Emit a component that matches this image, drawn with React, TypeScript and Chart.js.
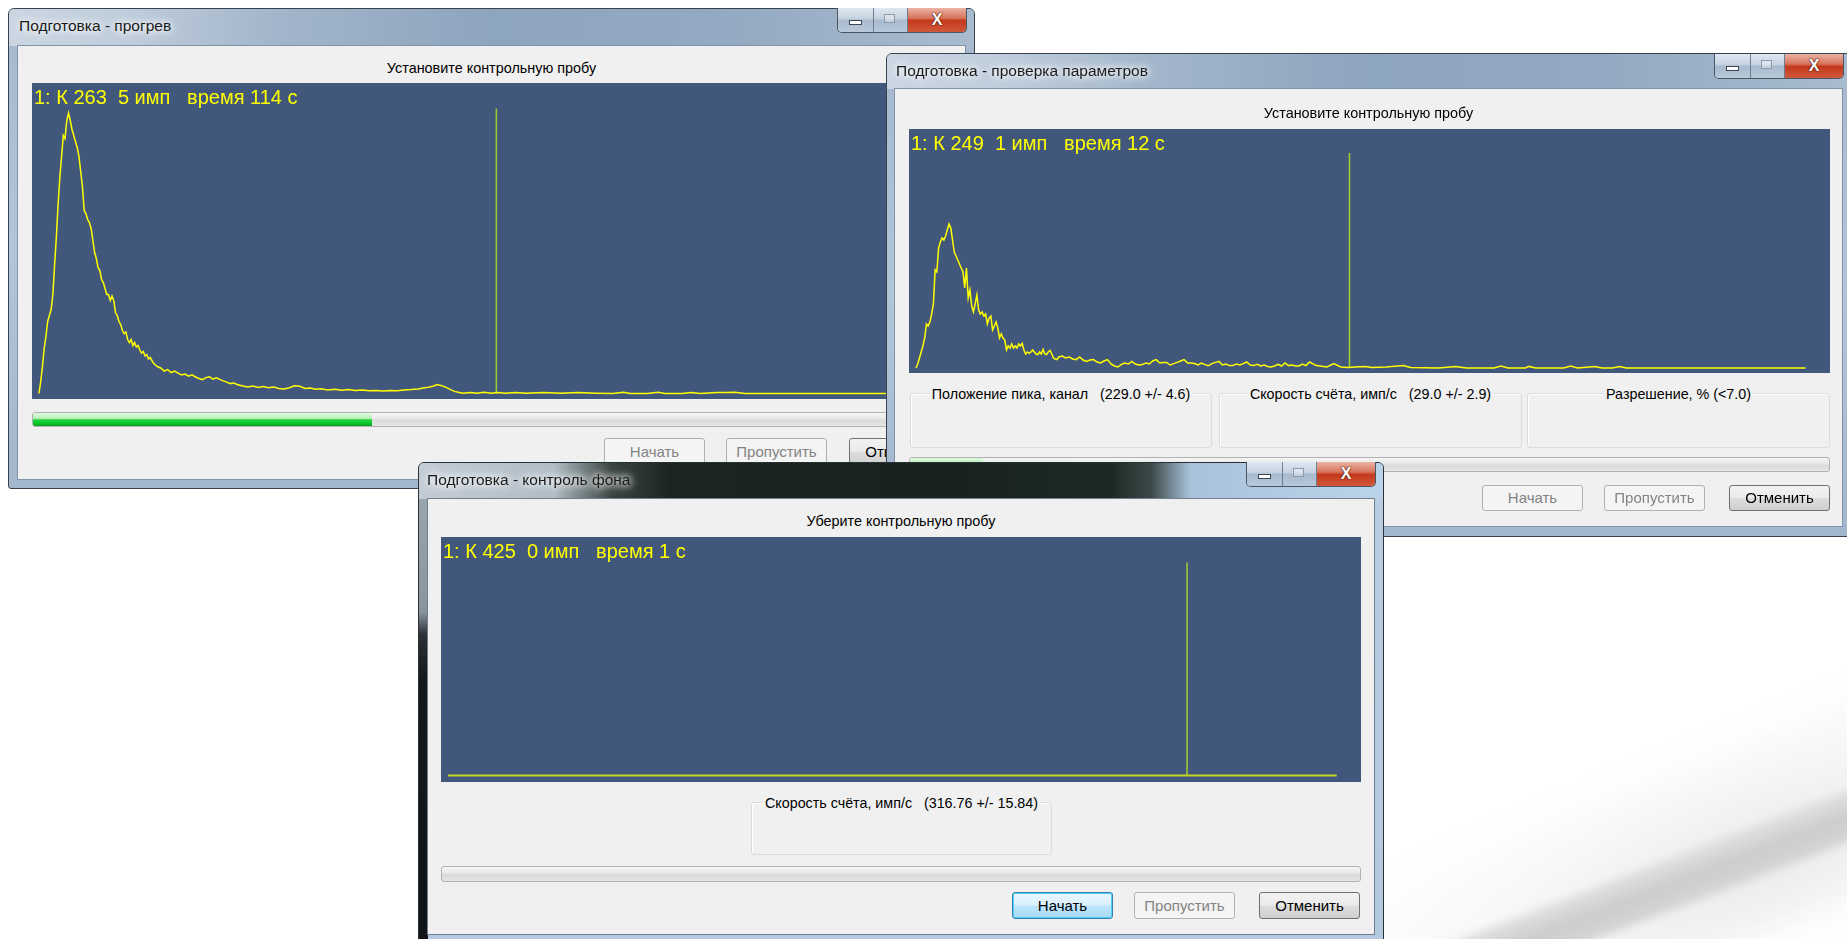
import React, { useEffect, useRef } from "react";
import { Chart, registerables } from "chart.js";

Chart.register(...registerables);

const UI_FONT = '"Liberation Sans", Arial, sans-serif';
const PLOT_BG = "#41587c";
const TRACE_YELLOW = "#ffff00";
const CURSOR_GREEN = "#9fcd2c";
const X_MIN = -4;
const X_MAX = 525;

// ---- Window 1: "Подготовка - прогрев" spectrum ----
const warmupChannels = [
  0, 1, 2, 3, 4, 5, 6, 7, 8, 9,
  10, 11, 12, 13, 14, 15, 16, 17, 18, 19,
  20, 21, 22, 23, 24, 25, 26, 27, 28, 29,
  30, 31, 32, 33, 34, 35, 36, 37, 38, 39,
  40, 41, 42, 43, 44, 45, 46, 47, 48, 49,
  50, 51, 52, 53, 54, 55, 56, 57, 58, 59,
  60, 61, 62, 63, 64, 65, 66, 67, 68,
  70, 72, 74, 76, 78, 80, 82, 84, 86, 88,
  90, 92, 94, 96, 98, 100, 102, 104, 106, 108,
  110, 112, 114, 116, 118, 120,
  123, 126, 129, 132, 135, 138, 141, 144, 147, 150, 153, 156, 159, 162,
  166, 170, 174, 178, 182, 186, 190, 194, 198, 202, 206, 210, 214, 218,
  221, 224, 227, 229, 231, 233, 235, 237, 239, 241,
  244, 248, 252, 256, 260, 264, 268, 274, 280, 290,
  300, 310, 320, 330, 336, 340, 350, 356, 360, 370,
  375, 380, 390, 395, 400, 406, 450, 511,
];
const warmupCounts = [
  0, 4, 9, 15, 19, 24, 26, 28, 33, 43,
  52, 63, 72, 79, 86, 85, 91, 93.5, 91, 88,
  86, 84, 82, 79, 74, 69, 61, 60, 58, 57,
  55, 51, 47, 45, 42, 41, 38, 37, 35, 33,
  33, 31, 32.5, 31, 27, 26, 24, 23, 21, 20,
  20.5, 18, 17, 18, 16, 17, 15.5, 16, 14.5, 13.5,
  14, 12.5, 13, 11.5, 12, 11, 10, 9.5, 9,
  8.5, 7.5, 8, 7, 7.5, 6.8, 6.2, 6.5, 5.8, 6.2,
  5.5, 5, 4.6, 5.3, 5.6, 4.8, 5.2, 4.7, 4.2, 3.8,
  3.3, 3.5, 3, 2.7, 2.4, 2.2,
  2.5, 2, 2.3, 1.9, 2.2, 1.7, 1.5, 1.9, 2.6, 2.4, 1.7, 1.8, 1.4, 1.6,
  1.2, 1.4, 1.1, 1.3, 1, 1.2, 0.9, 1, 0.8, 1, 0.9, 1.2, 1.3, 1.5,
  1.8, 2.1, 2.5, 3, 2.7, 2.3, 1.8, 1.2, 0.7, 0.4,
  0.1, 0.3, 0.1, 0.4, 0.1, 0.3, 0.1, 0.3, 0.1, 0.3,
  0.1, 0.3, 0.1, 0, 0.4, 0, 0, 0.4, 0, 0,
  0.3, 0, 0.3, 0.3, 0.4, 0, 0, 0,
];
const warmupCursor = 263;
const warmupCursorTop = 95;
const warmupLabel = "1: К 263  5 имп   время 114 с";

// ---- Window 2: "Подготовка - проверка параметров" spectrum ----
const checkChannels = [
  0, 1, 2, 3, 4, 5, 6, 7, 8, 9,
  10, 11, 12, 13, 14, 15, 16, 17, 18, 19,
  20, 21, 22, 23, 24, 25, 26, 27, 28, 29,
  30, 31, 32, 33, 34, 35, 36, 37, 38, 39,
  40, 41, 42, 43, 44, 45, 46, 47, 48, 49,
  50, 51, 52, 53, 54, 55, 56, 57, 58, 59,
  60, 61, 62, 63, 64, 65, 66, 67, 68, 69,
  70, 71, 72, 73, 74, 75, 76, 77, 78, 79,
  80, 81, 82,
  84, 86, 88, 90, 92, 94, 96, 98, 100, 102,
  104, 106, 108, 110, 112, 114, 116, 118, 120, 122,
  124, 126, 128, 130, 132, 134, 136, 138, 140, 142,
  144, 146, 148, 150, 152, 154, 156, 158, 160, 162,
  164, 166, 168, 170, 172, 174, 176, 178, 180, 182,
  184, 186, 188, 190, 192, 194, 196, 198, 200, 202,
  204, 206, 208, 210, 212, 214, 216, 218, 220, 222,
  224, 226,
  230, 236, 240, 244, 248, 252, 258, 262, 270, 280,
  284, 300, 310, 316, 332, 336, 340, 350, 352, 356,
  372, 376, 380, 390, 394, 400, 404, 408, 511,
];
const checkCounts = [
  0, 2, 5, 8, 11, 15, 22, 21, 23, 27,
  32, 49, 48, 60, 63, 65, 64, 66, 69, 72,
  70, 64, 58, 56, 54, 52, 50, 48, 40, 50,
  35, 39, 31, 28, 32, 36.5, 29, 27, 28, 26,
  27, 22, 25, 26, 19, 21, 23, 20, 15, 17,
  15, 14, 9, 11, 10, 12, 10, 11, 10, 12,
  11, 12.3, 9, 7, 8, 7.3, 8, 9, 8, 7,
  6.7, 8, 7, 9.3, 7, 6.7, 8, 8.8, 7, 5,
  4.5, 4.2, 5.5,
  6, 5, 5.5, 4.5, 4.2, 5.5, 4, 3.3, 4, 4.2,
  3, 2.5, 3.5, 4.2, 2, 1, 0.5, 1.8, 2.5, 2,
  3.3, 2, 1.5, 1.7, 2.5, 2, 3.5, 4.2, 2.5, 2.8,
  2.8, 1.5, 2.2, 2.8, 3.5, 4.2, 2.5, 2.5, 2.2, 1.5,
  2.5, 1.7, 1.2, 2.2, 2.8, 3.3, 1.5, 2, 1.2, 1.2,
  2, 1.5, 2.2, 3, 1.5, 1.2, 1.8, 1, 1.5, 0.8,
  0.5, 1, 1.8, 1, 2.5, 1.2, 1.5, 1, 1, 2,
  1.2, 3,
  1.2, 0.5, 2.2, 0.5, 0.3, 0.5, 0.8, 0.3, 0.5, 1.2,
  0.3, 0, 0.8, 0, 0, 1, 0, 0, 0.8, 0,
  0, 1, 0, 0.8, 0, 0, 0.8, 0, 0,
];
const checkCursor = 249;
const checkCursorTop = 107.5;
const checkLabel = "1: К 249  1 имп   время 12 с";

// ---- Window 3: "Подготовка - контроль фона" spectrum ----
const backgroundChannels = [0, 511];
const backgroundCounts = [0, 0];
const backgroundCursor = 425;
const backgroundCursorTop = 213;
const backgroundLabel = "1: К 425  0 имп   время 1 с";

type SpectrumProps = {
  left: number;
  top: number;
  width: number;
  height: number;
  channels: number[];
  counts: number[];
  cursor: number;
  cursorTop: number;
  yMin: number;
  yMax: number;
  lineColor: string;
  lineWidth: number;
  label: string;
};

function Spectrum(p: SpectrumProps) {
  const ref = useRef<HTMLCanvasElement>(null);
  useEffect(() => {
    const chart = new Chart(ref.current as HTMLCanvasElement, {
      type: "line",
      data: {
        datasets: [
          {
            data: p.channels.map((c, i) => ({ x: c, y: p.counts[i] })),
            borderColor: p.lineColor,
            borderWidth: p.lineWidth,
            pointRadius: 0,
            tension: 0,
            fill: false,
          },
          {
            data: [
              { x: p.cursor, y: 0 },
              { x: p.cursor, y: p.cursorTop },
            ],
            borderColor: CURSOR_GREEN,
            borderWidth: 1.5,
            pointRadius: 0,
            tension: 0,
            fill: false,
          },
        ],
      },
      options: {
        animation: false,
        responsive: false,
        devicePixelRatio: 1,
        events: [],
        layout: { padding: 0 },
        plugins: { legend: { display: false }, tooltip: { enabled: false } },
        scales: {
          x: { type: "linear", min: X_MIN, max: X_MAX, display: false },
          y: { type: "linear", min: p.yMin, max: p.yMax, display: false },
        },
      },
    } as any);
    return () => chart.destroy();
  }, []);
  return (
    <div style={{ position: "absolute", left: p.left, top: p.top, width: p.width, height: p.height, background: PLOT_BG }}>
      <canvas ref={ref} width={p.width} height={p.height} style={{ display: "block", width: p.width, height: p.height }} />
      <div
        style={{
          position: "absolute",
          left: 2,
          top: 4,
          color: TRACE_YELLOW,
          font: `20px ${UI_FONT}`,
          lineHeight: "20px",
          whiteSpace: "pre",
        }}
      >
        {p.label}
      </div>
    </div>
  );
}

const MINMAX_BG = "linear-gradient(180deg, #dfe8f1 0%, #c3d1df 45%, #a8bacd 52%, #b9c9da 100%)";
const CLOSE_BG = "linear-gradient(180deg, #eab3a5 0%, #d8735a 42%, #c4391c 52%, #d0583a 100%)";

function TitleButtons({ left, top }: { left: number; top: number }) {
  return (
    <div
      style={{
        position: "absolute",
        left,
        top,
        width: 130,
        height: 25,
        display: "flex",
        boxSizing: "border-box",
        border: "1px solid #4a5664",
        borderTop: "none",
        borderRadius: "0 0 5px 5px",
        overflow: "hidden",
      }}
    >
      <div style={{ width: 36, height: "100%", background: MINMAX_BG, borderRight: "1px solid #6d7e90", position: "relative", boxSizing: "border-box" }}>
        <div style={{ position: "absolute", left: 11, top: 12, width: 11, height: 3, background: "#fff", border: "1px solid #3a4654" }} />
      </div>
      <div style={{ width: 34, height: "100%", background: MINMAX_BG, borderRight: "1px solid #6d7e90", position: "relative", boxSizing: "border-box" }}>
        <div style={{ position: "absolute", left: 10, top: 6, width: 11, height: 9, border: "1px solid #8d9cad", boxSizing: "border-box", background: "rgba(255,255,255,0.35)" }} />
      </div>
      <div
        style={{
          flex: 1,
          height: "100%",
          background: CLOSE_BG,
          color: "#fff",
          font: `bold 16px ${UI_FONT}`,
          lineHeight: "23px",
          textAlign: "center",
          textShadow: "0 0 2px #4a0c00, 0 0 1px #4a0c00",
        }}
      >
        X
      </div>
    </div>
  );
}

function Progress({ left, top, width, height, fill }: { left: number; top: number; width: number; height: number; fill: number }) {
  return (
    <div
      style={{
        position: "absolute",
        left,
        top,
        width,
        height,
        boxSizing: "border-box",
        border: "1px solid #b2b2b2",
        borderRadius: 3,
        background: "linear-gradient(180deg, #f6f6f6 0%, #e7e7e7 45%, #dadada 55%, #e6e6e6 100%)",
        overflow: "hidden",
      }}
    >
      {fill > 0 && (
        <div
          style={{
            position: "absolute",
            left: 0,
            top: 0,
            bottom: 0,
            width: fill,
            background: "linear-gradient(180deg, #e0fae0 0%, #b7efb8 42%, #27d443 52%, #08c52a 80%, #0b9f25 100%)",
          }}
        />
      )}
    </div>
  );
}

type BtnKind = "disabled" | "normal" | "default";
function Btn({ left, top, label, kind, height = 27 }: { left: number; top: number; label: string; kind: BtnKind; height?: number }) {
  const styles: Record<BtnKind, React.CSSProperties> = {
    disabled: { border: "1px solid #adb2b5", background: "#f4f4f4", color: "#838383" },
    normal: {
      border: "1px solid #707070",
      background: "linear-gradient(180deg, #f2f2f2 0%, #ebebeb 48%, #dddddd 52%, #cfcfcf 100%)",
      color: "#000",
    },
    default: {
      border: "1px solid #3c7fb1",
      background: "linear-gradient(180deg, #eaf6fd 0%, #d9f0fc 48%, #bee6fd 52%, #a7d9f5 100%)",
      color: "#000",
      boxShadow: "inset 0 0 0 1px #48d2f7",
    },
  };
  return (
    <div
      style={{
        position: "absolute",
        left,
        top,
        width: 101,
        height,
        boxSizing: "border-box",
        borderRadius: 3,
        font: `15px ${UI_FONT}`,
        lineHeight: `${height - 2}px`,
        textAlign: "center",
        ...styles[kind],
      }}
    >
      {label}
    </div>
  );
}

function GroupBox({ left, top, width, height, label }: { left: number; top: number; width: number; height: number; label: string }) {
  return (
    <div
      style={{
        position: "absolute",
        left,
        top,
        width,
        height,
        boxSizing: "border-box",
        border: "1px solid #d8dcdf",
        borderRadius: 3,
        boxShadow: "inset 1px 1px 0 #ffffff",
      }}
    >
      <div style={{ position: "absolute", left: 0, right: 0, top: -9, textAlign: "center", lineHeight: "17px" }}>
        <span style={{ background: "#f0f0f0", padding: "0 2px", font: `14.3px ${UI_FONT}`, whiteSpace: "pre", color: "#000" }}>{label}</span>
      </div>
    </div>
  );
}

function Subtitle({ left, width, top, text }: { left: number; width: number; top: number; text: string }) {
  return (
    <div style={{ position: "absolute", left, width, top, textAlign: "center", font: `14.4px ${UI_FONT}`, lineHeight: "17px", color: "#000" }}>
      {text}
    </div>
  );
}

function Title({ left, top, text }: { left: number; top: number; text: string }) {
  return (
    <div
      style={{
        position: "absolute",
        left,
        top,
        font: `15.5px ${UI_FONT}`,
        lineHeight: "18px",
        color: "#1b1b1b",
        whiteSpace: "pre",
        textShadow: "0 0 6px #ffffff, 0 0 10px rgba(255,255,255,0.9), 0 0 14px rgba(255,255,255,0.7)",
      }}
    >
      {text}
    </div>
  );
}

const GLASS_TITLE = "linear-gradient(90deg, #cbd6e2 0%, #bfcddc 12%, #a2b5ca 28%, #8ea5be 50%, #94aac2 75%, #a9bccf 100%)";
const GLASS_SIDE = "linear-gradient(180deg, #a5b8cd 0%, #b3c5d9 50%, #a2b6cc 100%)";

export default function App() {
  return (
    <div style={{ position: "absolute", left: 0, top: 0, width: 1847, height: 939, overflow: "hidden", background: "#ffffff", fontFamily: UI_FONT }}>
      {/* faint pen in the background */}
      <div
        style={{
          position: "absolute",
          left: 1360,
          top: 770,
          width: 660,
          height: 190,
          transform: "rotate(-22deg)",
          background: "radial-gradient(ellipse at 60% 60%, rgba(185,185,185,0.3) 0%, rgba(212,212,212,0.16) 55%, rgba(255,255,255,0) 100%)",
          filter: "blur(14px)",
          zIndex: 0,
        }}
      />
      <div
        style={{
          position: "absolute",
          left: 1423,
          top: 846,
          width: 540,
          height: 60,
          transform: "rotate(-21deg)",
          background: "linear-gradient(180deg, rgba(225,225,225,0) 0%, #dcdcdc 20%, #cdcdcd 50%, #d3d3d3 80%, rgba(230,230,230,0) 100%)",
          filter: "blur(2.5px)",
          zIndex: 0,
        }}
      />

      {/* ===== Window 1 ===== */}
      <div style={{ position: "absolute", left: 0, top: 0, width: 1847, height: 939, zIndex: 1 }}>
        <div
          style={{
            position: "absolute",
            left: 8,
            top: 8,
            width: 967,
            height: 481,
            boxSizing: "border-box",
            border: "1px solid #37424e",
            borderRadius: "6px 6px 3px 3px",
            background: GLASS_SIDE,
            overflow: "hidden",
          }}
        >
          <div style={{ position: "absolute", left: 0, top: 0, right: 0, height: 37, background: GLASS_TITLE }} />
        </div>
        <Title left={19} top={17} text="Подготовка - прогрев" />
        <TitleButtons left={837} top={8} />
        <div style={{ position: "absolute", left: 17, top: 45, width: 949, height: 435, boxSizing: "border-box", background: "#f0f0f0", border: "1px solid #7f93a9" }} />
        <Subtitle left={17} width={949} top={60} text="Установите контрольную пробу" />
        <Spectrum
          left={32}
          top={83}
          width={920}
          height={316}
          channels={warmupChannels}
          counts={warmupCounts}
          cursor={warmupCursor}
          cursorTop={warmupCursorTop}
          yMin={-1.83}
          yMax={103.5}
          lineColor={TRACE_YELLOW}
          lineWidth={1.5}
          label={warmupLabel}
        />
        <Progress left={32} top={412} width={920} height={15} fill={339} />
        <Btn left={604} top={438} label="Начать" kind="disabled" />
        <Btn left={726} top={438} label="Пропустить" kind="disabled" />
        <Btn left={849} top={438} label="Отменить" kind="normal" />
      </div>

      {/* ===== Window 2 ===== */}
      <div style={{ position: "absolute", left: 0, top: 0, width: 1847, height: 939, zIndex: 2 }}>
        <div
          style={{
            position: "absolute",
            left: 886,
            top: 53,
            width: 966,
            height: 484,
            boxSizing: "border-box",
            border: "1px solid #37424e",
            borderRadius: "6px 6px 3px 3px",
            background: GLASS_SIDE,
            overflow: "hidden",
          }}
        >
          <div style={{ position: "absolute", left: 0, top: 0, right: 0, height: 35, background: GLASS_TITLE }} />
        </div>
        <Title left={896} top={62} text="Подготовка - проверка параметров" />
        <TitleButtons left={1714} top={54} />
        <div style={{ position: "absolute", left: 894, top: 88, width: 949, height: 439, boxSizing: "border-box", background: "#f0f0f0", border: "1px solid #7f93a9" }} />
        <Subtitle left={894} width={949} top={105} text="Установите контрольную пробу" />
        <Spectrum
          left={909}
          top={129}
          width={921}
          height={244}
          channels={checkChannels}
          counts={checkCounts}
          cursor={checkCursor}
          cursorTop={checkCursorTop}
          yMin={-2.5}
          yMax={119.5}
          lineColor={TRACE_YELLOW}
          lineWidth={1.5}
          label={checkLabel}
        />
        <GroupBox left={910} top={393} width={302} height={55} label="Положение пика, канал   (229.0 +/- 4.6)" />
        <GroupBox left={1219} top={393} width={303} height={55} label="Скорость счёта, имп/с   (29.0 +/- 2.9)" />
        <GroupBox left={1527} top={393} width={303} height={55} label="Разрешение, % (<7.0)" />
        <Progress left={909} top={457} width={921} height={15} fill={73} />
        <Btn left={1482} top={485} height={26} label="Начать" kind="disabled" />
        <Btn left={1604} top={485} height={26} label="Пропустить" kind="disabled" />
        <Btn left={1729} top={485} height={26} label="Отменить" kind="normal" />
      </div>

      {/* ===== Window 3 ===== */}
      <div style={{ position: "absolute", left: 0, top: 0, width: 1847, height: 939, zIndex: 3 }}>
        <div
          style={{
            position: "absolute",
            left: 418,
            top: 462,
            width: 966,
            height: 490,
            boxSizing: "border-box",
            border: "1px solid #2a3038",
            borderRadius: "6px 6px 3px 3px",
            background: "linear-gradient(180deg, #b9cde2 0%, #b3c9df 100%)",
            overflow: "hidden",
          }}
        >
          <div
            style={{
              position: "absolute",
              left: 0,
              top: 0,
              right: 0,
              height: 36,
              background:
                "linear-gradient(90deg, #c3ccd5 0%, #b1bcc6 14%, #39443f 20%, #1c2621 26%, #18221d 55%, #1d2a24 72%, #3d4a4a 76%, #a9c2da 80%, #bcd4ea 100%)",
            }}
          />
          <div
            style={{
              position: "absolute",
              left: 0,
              top: 36,
              width: 9,
              bottom: 0,
              background: "linear-gradient(180deg, #9aa4ae 0%, #8a949e 25%, #2a3036 30%, #14181c 40%, #101418 100%)",
            }}
          />
        </div>
        <Title left={427} top={471} text="Подготовка - контроль фона" />
        <TitleButtons left={1246} top={462} />
        <div style={{ position: "absolute", left: 427, top: 498, width: 948, height: 437, boxSizing: "border-box", background: "#f0f0f0", border: "1px solid #6f7f90" }} />
        <Subtitle left={427} width={948} top={513} text="Уберите контрольную пробу" />
        <Spectrum
          left={441}
          top={537}
          width={920}
          height={245}
          channels={backgroundChannels}
          counts={backgroundCounts}
          cursor={backgroundCursor}
          cursorTop={backgroundCursorTop}
          yMin={-6.5}
          yMax={238.5}
          lineColor="#c4d420"
          lineWidth={2}
          label={backgroundLabel}
        />
        <GroupBox left={751} top={802} width={301} height={53} label="Скорость счёта, имп/с   (316.76 +/- 15.84)" />
        <Progress left={441} top={866} width={920} height={16} fill={0} />
        <Btn left={1012} top={892} label="Начать" kind="default" />
        <Btn left={1134} top={892} label="Пропустить" kind="disabled" />
        <Btn left={1259} top={892} label="Отменить" kind="normal" />
      </div>
    </div>
  );
}
